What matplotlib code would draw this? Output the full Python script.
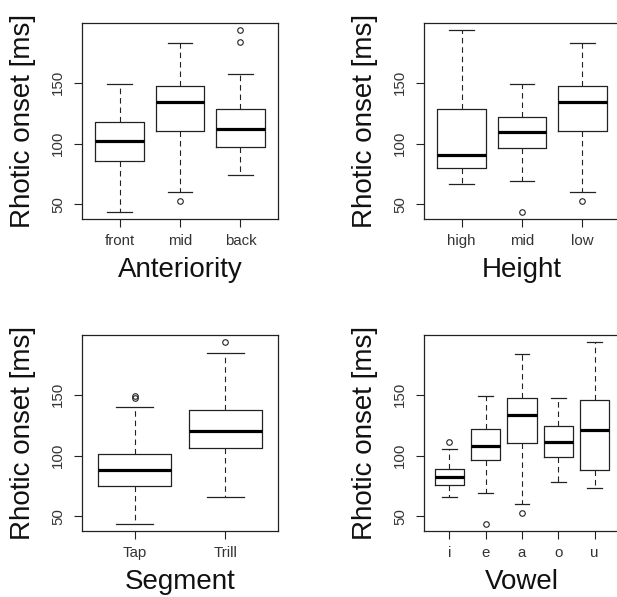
import matplotlib
matplotlib.use("Agg")
import matplotlib.pyplot as plt

plt.rcParams["font.family"] = ["Liberation Sans", "DejaVu Sans"]

# five-number summaries read per group: whisker low, Q1, median, Q3, whisker high
ant_labels = ["front", "mid", "back"]
ant_whislo = [44, 60, 74]
ant_q1 = [86, 110, 97]
ant_med = [102, 134, 112]
ant_q3 = [117.5, 147, 128.5]
ant_whishi = [149, 182.5, 157]
ant_fliers = [[], [53], [193, 183.5]]

hgt_labels = ["high", "mid", "low"]
hgt_whislo = [67, 69, 60]
hgt_q1 = [80, 96, 110]
hgt_med = [90.5, 109.5, 134]
hgt_q3 = [128, 122, 147]
hgt_whishi = [193, 149, 182.5]
hgt_fliers = [[], [44], [53]]

seg_labels = ["Tap", "Trill"]
seg_whislo = [44, 66]
seg_q1 = [75, 106]
seg_med = [88.5, 120]
seg_q3 = [101, 137.5]
seg_whishi = [140, 184]
seg_fliers = [[149, 147.5], [193]]

vow_labels = ["i", "e", "a", "o", "u"]
vow_whislo = [66, 69, 60, 78, 73.5]
vow_q1 = [76, 96, 110, 98.5, 88]
vow_med = [82.5, 107.5, 133.5, 111, 121]
vow_q3 = [89, 121.5, 147, 124, 146]
vow_whishi = [105, 149, 183, 147.5, 193]
vow_fliers = [[111.5], [44], [53], [], []]

panels = [
    ("Anteriority", ant_labels, ant_whislo, ant_q1, ant_med, ant_q3, ant_whishi, ant_fliers),
    ("Height", hgt_labels, hgt_whislo, hgt_q1, hgt_med, hgt_q3, hgt_whishi, hgt_fliers),
    ("Segment", seg_labels, seg_whislo, seg_q1, seg_med, seg_q3, seg_whishi, seg_fliers),
    ("Vowel", vow_labels, vow_whislo, vow_q1, vow_med, vow_q3, vow_whishi, vow_fliers),
]

W, H = 617, 597
fig = plt.figure(figsize=(W / 100, H / 100), dpi=100)

# pixel boxes of the four plot regions (left, top); right column runs off the edge
boxes = [(82, 23), (424, 23), (82, 335), (424, 335)]
size = 196

# shared y range, padded 4% like R
all_vals = []
for p in panels:
    all_vals += p[2] + p[6] + sum(p[7], [])
lo, hi = min(all_vals), max(all_vals)
pad = 0.04 * (hi - lo)

dark = "#222222"
for (name, labels, wlo, q1, med, q3, whi, fl), (left, top) in zip(panels, boxes):
    ax = fig.add_axes([left / W, (H - top - size) / H, size / W, size / H])
    stats = []
    for i in range(len(labels)):
        stats.append(dict(whislo=wlo[i], q1=q1[i], med=med[i], q3=q3[i],
                          whishi=whi[i], fliers=fl[i]))
    n = len(labels)
    pos = list(range(1, n + 1))
    ax.bxp(stats, positions=pos, widths=0.8, patch_artist=False,
           boxprops=dict(color=dark, lw=0.9),
           medianprops=dict(color="black", lw=2.3, solid_capstyle="butt"),
           whiskerprops=dict(color=dark, lw=0.8, linestyle=(0, (5, 3.5))),
           capprops=dict(color=dark, lw=0.9),
           flierprops=dict(marker="o", markerfacecolor="none",
                           markeredgecolor=dark, markersize=4, markeredgewidth=0.8))
    ax.set_xlim(0.5 - 0.04 * n, n + 0.5 + 0.04 * n)
    ax.set_ylim(lo - pad, hi + pad)
    ax.set_xticks(pos)
    ax.set_xticklabels(labels)
    ax.set_yticks([50, 100, 150])
    ax.set_yticklabels(["50", "100", "150"], rotation=90, va="center")
    ax.tick_params(axis="both", direction="out", length=6, width=0.8,
                   color=dark, labelsize=10.8, labelcolor="#333333")
    ax.tick_params(axis="x", pad=5)
    ax.tick_params(axis="y", pad=6)
    for s in ax.spines.values():
        s.set_color(dark)
        s.set_linewidth(0.9)
    ax.set_xlabel(name, fontsize=20, color="#111111")
    ax.set_ylabel("Rhotic onset [ms]", fontsize=20, color="#111111")
    ax.xaxis.label.set_va("center")
    ax.yaxis.label.set_va("center")
    ax.xaxis.set_label_coords(0.5, -0.26)
    ax.yaxis.set_label_coords(-0.30, 0.5)

fig.savefig("out.png", dpi=100, facecolor="white")
